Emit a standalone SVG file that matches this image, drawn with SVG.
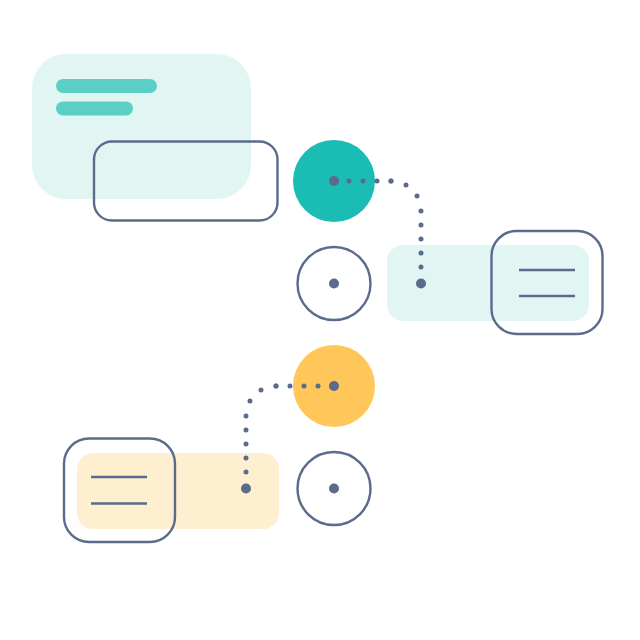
<svg xmlns="http://www.w3.org/2000/svg" width="640" height="640" viewBox="0 0 640 640">
  <style>
    .outline { fill: none; stroke: #5A6B8C; stroke-width: 2.4; }
    .ln { stroke: #5A6B8C; stroke-width: 2.4; }
    .dot { fill: #5A6B8C; }
    .dots { fill: none; stroke: #5A6B8C; stroke-width: 5; stroke-linecap: round; stroke-dasharray: 0 14; }
    .arc { stroke-dasharray: 0 15.7; }
    .bar { stroke: #5BCFC6; stroke-width: 14; stroke-linecap: round; }
  </style>
  <rect width="640" height="640" fill="#FFFFFF"/>
  <g id="card-top">
    <rect x="32" y="54" width="219" height="145" rx="34" fill="#E1F6F3"/>
    <line class="bar" x1="63" y1="86" x2="150" y2="86"/>
    <line class="bar" x1="63" y1="108.5" x2="126" y2="108.5"/>
    <rect class="outline" x="94" y="141.5" width="183.5" height="79" rx="18"/>
  </g>
  <g id="node-teal">
    <circle cx="334" cy="181" r="41" fill="#1BBCB3"/>
  </g>
  <g id="node-ring-1">
    <circle class="outline" cx="334" cy="283.5" r="36.5"/>
    <circle class="dot" cx="334" cy="283.5" r="5"/>
  </g>
  <g id="card-right">
    <rect x="387" y="245" width="202" height="76" rx="16" fill="#E1F6F3"/>
    <rect class="outline" x="491.5" y="231" width="111" height="103" rx="25"/>
    <line class="ln" x1="519" y1="270" x2="575" y2="270"/>
    <line class="ln" x1="519" y1="296" x2="575" y2="296"/>
  </g>
  <g id="node-yellow">
    <circle cx="334" cy="386" r="41" fill="#FFC75A"/>
  </g>
  <g id="node-ring-2">
    <circle class="outline" cx="334" cy="488.5" r="36.5"/>
    <circle class="dot" cx="334" cy="488.5" r="5"/>
  </g>
  <g id="card-left">
    <rect x="77" y="453" width="202" height="76" rx="16" fill="#FEEFD0"/>
    <rect class="outline" x="64" y="438.5" width="111" height="103.5" rx="25"/>
    <line class="ln" x1="91" y1="477" x2="147" y2="477"/>
    <line class="ln" x1="91" y1="503.5" x2="147" y2="503.5"/>
  </g>
  <g id="connectors">
    <path class="dots" d="M335 181 H391.5 M421 211 V267.5"/>
    <path class="dots arc" d="M391 181 A30 30 0 0 1 421 211"/>
    <circle class="dot" cx="334" cy="181" r="5"/>
    <circle class="dot" cx="421" cy="283.5" r="5"/>
    <path class="dots" d="M332 386 H275.5 M246 416 V472.5"/>
    <path class="dots arc" d="M276 386 A30 30 0 0 0 246 416"/>
    <circle class="dot" cx="334" cy="386" r="5"/>
    <circle class="dot" cx="246" cy="488.5" r="5"/>
  </g>
</svg>
